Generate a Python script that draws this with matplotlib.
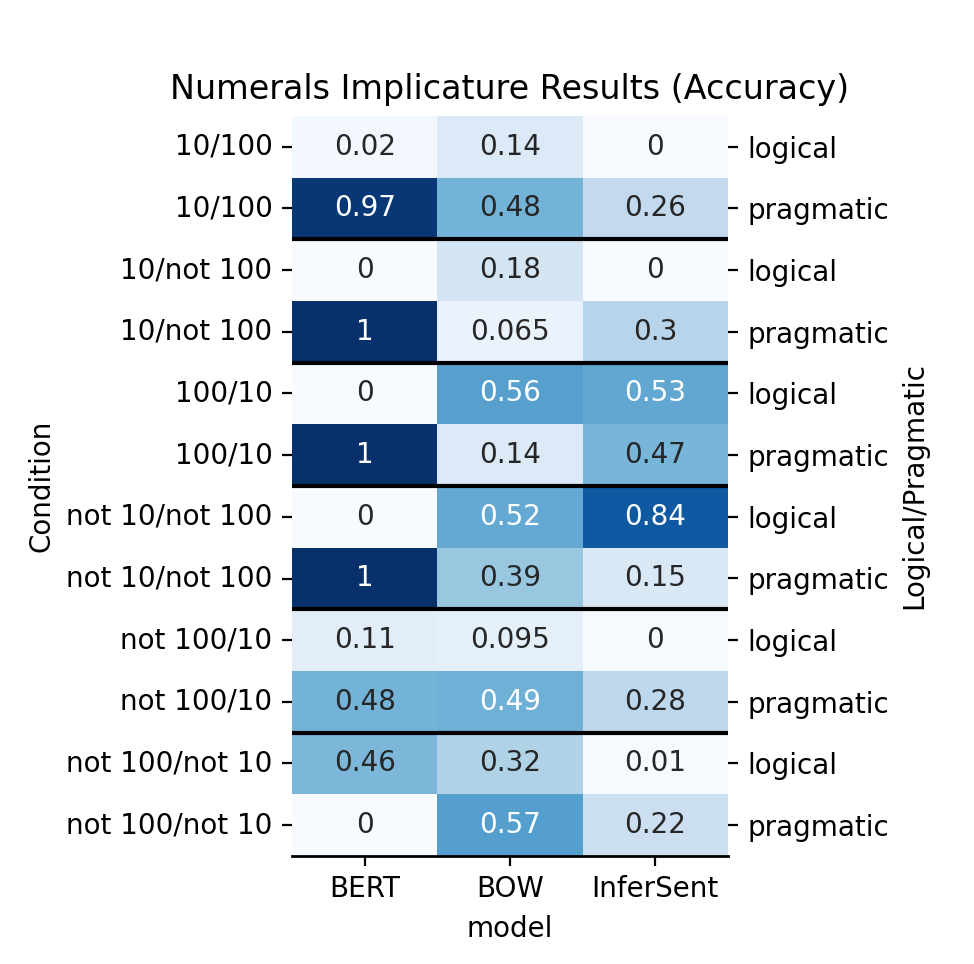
import matplotlib
matplotlib.use("Agg")
import matplotlib.pyplot as plt
import numpy as np
import seaborn as sns

conditions = ["10/100", "10/100", "10/not 100", "10/not 100", "100/10", "100/10",
              "not 10/not 100", "not 10/not 100", "not 100/10", "not 100/10",
              "not 100/not 10", "not 100/not 10"]
kinds = ["logical", "pragmatic"] * 6
models = ["BERT", "BOW", "InferSent"]
bert = [0.02, 0.97, 0, 1, 0, 1, 0, 1, 0.11, 0.48, 0.46, 0]
bow = [0.14, 0.48, 0.18, 0.065, 0.56, 0.14, 0.52, 0.39, 0.095, 0.49, 0.32, 0.57]
infersent = [0, 0.26, 0, 0.3, 0.53, 0.47, 0.84, 0.15, 0, 0.28, 0.01, 0.22]

data = np.array([bert, bow, infersent]).T

fig = plt.figure(figsize=(4.87, 4.82), dpi=200)
ax = fig.add_axes([292/974, 1-856/964, (728-292)/974, (856-116)/964])
sns.heatmap(data, ax=ax, cmap="Blues", vmin=0, vmax=1, annot=True, fmt="g",
            cbar=False, xticklabels=models, yticklabels=conditions,
            annot_kws={"fontsize": 10})
ax.set_xlabel("model", fontsize=10)
ax.set_ylabel("Condition", fontsize=10)
ax.set_title("Numerals Implicature Results (Accuracy)", fontsize=12)
ax.tick_params(axis="both", labelsize=10, length=3.5)
ax.set_yticklabels(conditions, rotation=0)
for y in range(2, len(conditions), 2):
    ax.axhline(y, color="black", linewidth=1.5)
ax.spines["bottom"].set_visible(True)
ax.spines["bottom"].set_linewidth(1.0)

ax2 = ax.twinx()
ax2.set_ylim(ax.get_ylim())
ax2.set_yticks(np.arange(len(kinds)) + 0.5)
ax2.set_yticklabels(kinds, fontsize=10)
ax2.set_ylabel("Logical/Pragmatic", fontsize=10)
for s in ax2.spines.values():
    s.set_visible(False)

fig.savefig("out.png", dpi=200)
